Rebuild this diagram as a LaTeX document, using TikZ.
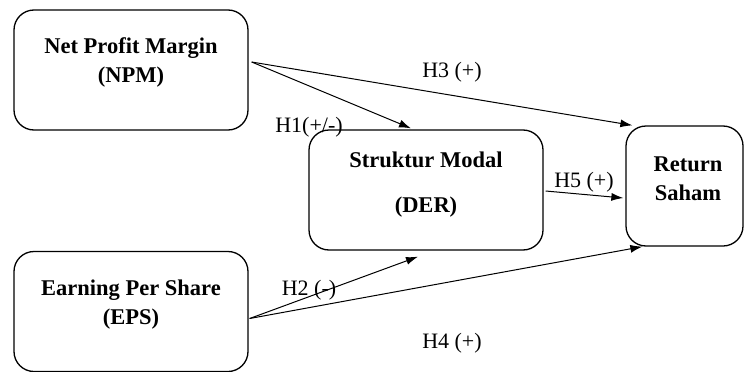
\documentclass[tikz,border=0pt]{standalone}
\usepackage{fontspec}
\setmainfont{Liberation Serif}
\usetikzlibrary{arrows.meta}
\begin{document}
\begin{tikzpicture}[x=1pt,y=-1pt,
  box/.style={draw,line width=1.3pt,rounded corners=20pt,minimum width=234pt,minimum height=120pt,inner sep=0pt},
  rbox/.style={draw,line width=1.3pt,rounded corners=20pt,minimum width=117pt,minimum height=120pt,inner sep=0pt},
  btxt/.style={font=\fontsize{22.5}{29}\selectfont\bfseries,align=center,inner sep=0pt},
  lbl/.style={font=\fontsize{22}{26}\selectfont,inner sep=0pt},
  arr/.style={line width=1pt,-{Latex[length=12pt,width=8pt]}}]
\useasboundingbox (0,0) rectangle (744,372);
\node[box] (npm) at (131,70) {};
\node[box] (der) at (426,190) {};
\node[rbox] (ret) at (684.5,186) {};
\node[box] (eps) at (131,311.5) {};
\node[btxt] (npmt) at (131,62.5) {Net Profit Margin\\(NPM)};
\node[btxt] (dert) at (426,184.5) {Struktur Modal\\[16pt](DER)};
\node[btxt] (rett) at (688,179) {Return\\Saham};
\node[btxt] (epst) at (131,304.5) {Earning Per Share\\(EPS)};
\draw[arr] ([xshift=3pt,yshift=8pt]npm.east) -- ([xshift=-15pt,yshift=1pt]der.north);
\draw[arr] ([xshift=3pt,yshift=8pt]npm.east) -- ([xshift=7pt]ret.north west);
\draw[arr] ([xshift=2pt,yshift=-1pt]der.east) -- ([xshift=-2pt,yshift=-12pt]ret.west);
\draw[arr] ([xshift=1pt,yshift=-7pt]eps.east) -- ([xshift=-8pt,yshift=-6pt]der.south);
\draw[arr] ([xshift=1pt,yshift=-7pt]eps.east) -- ([xshift=17pt]ret.south west);
\node[lbl] (h3) at (452,72) {H3 (+)};
\node[lbl] (h1) at (309,127) {H1(+/-)};
\node[lbl] (h5) at (584,182) {H5 (+)};
\node[lbl] (h2) at (309,290) {H2 (-)};
\node[lbl] (h4) at (452,343) {H4 (+)};
\end{tikzpicture}
\end{document}
